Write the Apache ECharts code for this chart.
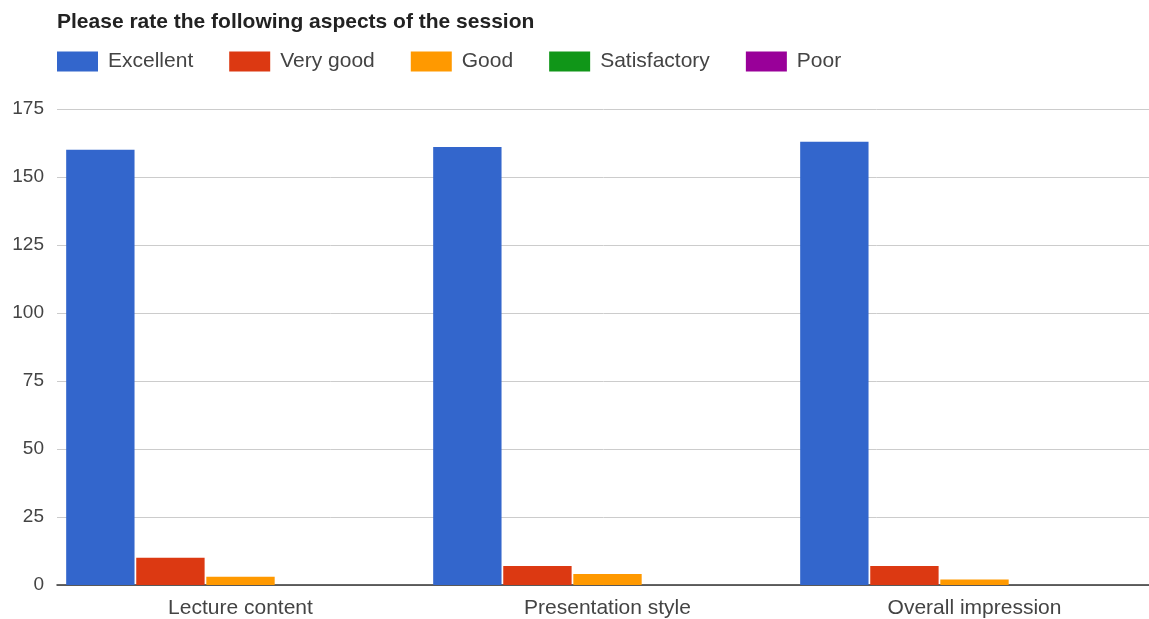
<!DOCTYPE html>
<html>
<head>
<meta charset="utf-8">
<script src="https://cdn.jsdelivr.net/npm/echarts@6/dist/echarts.min.js"></script>
<style>html,body{margin:0;padding:0;background:#fff;overflow:hidden;}#c{width:1149px;height:619px;}</style>
</head>
<body>
<div id="c"></div>
<script>
const categories = ['Lecture content', 'Presentation style', 'Overall impression'];
const seriesNames = ['Excellent', 'Very good', 'Good', 'Satisfactory', 'Poor'];
const excellent = [160, 161, 163];
const veryGood = [10, 7, 7];
const good = [3, 4, 2];
const satisfactory = [0, 0, 0];
const poor = [0, 0, 0];
const yTicks = [0, 25, 50, 75, 100, 125, 150, 175];
const colors = ['#3366cc', '#dc3912', '#ff9900', '#109618', '#990099'];

const values = [excellent, veryGood, good, satisfactory, poor];
const chart = echarts.init(document.getElementById('c'));
chart.setOption({
  animation: false,
  color: colors,
  textStyle: { fontFamily: 'Liberation Sans, Arial, sans-serif' },
  title: {
    text: 'Please rate the following aspects of the session',
    left: 52, top: 7,
    textStyle: { fontSize: 21, fontWeight: 'bold', color: '#222', fontFamily: 'Liberation Sans, Arial, sans-serif' }
  },
  legend: {
    left: 52, top: 46,
    itemWidth: 41, itemHeight: 20, itemGap: 36,
    icon: 'rect',
    textStyle: { fontSize: 21, color: '#444', padding: [0, 0, 0, 5] },
    data: seriesNames
  },
  grid: { left: 57, width: 1101, top: 109, height: 476, containLabel: false, outerBoundsMode: 'none' },
  xAxis: {
    type: 'category',
    data: categories,
    axisTick: { show: false },
    axisLine: { lineStyle: { color: '#333', width: 1.5 } },
    axisLabel: { fontSize: 21, color: '#444', margin: 13 }
  },
  yAxis: {
    type: 'value',
    min: yTicks[0], max: yTicks[yTicks.length - 1], interval: 25,
    axisLine: { show: false },
    axisTick: { show: false },
    splitLine: { lineStyle: { color: '#cccccc' } },
    axisLabel: { fontSize: 19, color: '#444', margin: 13 }
  },
  series: seriesNames.map((n, i) => ({
    name: n,
    type: 'bar',
    data: values[i],
    barGap: '2.5%',
    barCategoryGap: '5%'
  }))
});
</script>
</body>
</html>
